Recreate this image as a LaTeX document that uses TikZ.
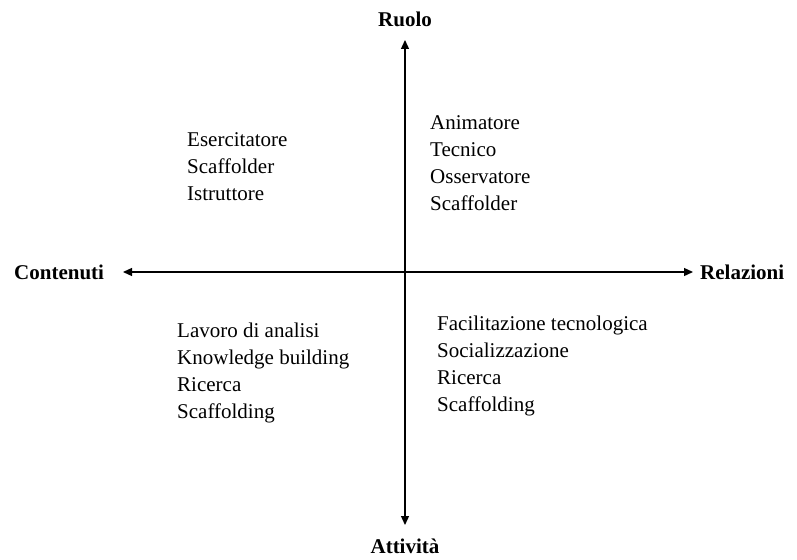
\documentclass[tikz,border=0pt]{standalone}
\usepackage{fontspec}
\setmainfont{Liberation Serif}
\usetikzlibrary{arrows.meta, positioning}

\begin{document}
\begin{tikzpicture}[
    x=1pt, y=-1pt,
    >={Triangle[length=9pt, width=8pt]},
    axis/.style={<->, line width=1.3pt},
    ttl/.style={font=\fontsize{21}{25}\selectfont\bfseries, inner sep=0pt},
    lst/.style={font=\fontsize{21}{27}\selectfont, align=left, anchor=base west, inner sep=0pt},
]
\useasboundingbox (0,0) rectangle (797,559);
% ============================================================
% Axes
% ============================================================
\coordinate (top) at (405, 40);
\coordinate (bot) at (405, 525);
\coordinate (lft) at (123, 272);
\coordinate (rgt) at (693, 272);
\draw[axis] (top) -- (bot);
\draw[axis] (lft) -- (rgt);
% --- axis titles ---
\node[ttl, anchor=base] (ruolo) at (405, 27) {Ruolo};
\node[ttl, anchor=base] (attivita) at (405, 553) {Attività};
\node[ttl, anchor=west] (contenuti) at (14, 272) {Contenuti};
\node[ttl, anchor=west] (relazioni) at (700, 272) {Relazioni};
% ============================================================
% Quadrants (anchored at the baseline of the last line)
% ============================================================
\node[lst] (ql1) at (187, 200) {Esercitatore\\Scaffolder\\Istruttore};
\node[lst] (qr1) at (430, 210) {Animatore\\Tecnico\\Osservatore\\Scaffolder};
\node[lst] (ql2) at (177, 418) {Lavoro di analisi\\Knowledge building\\Ricerca\\Scaffolding};
\node[lst] (qr2) at (437, 411) {Facilitazione tecnologica\\Socializzazione\\Ricerca\\Scaffolding};
\end{tikzpicture}
\end{document}
